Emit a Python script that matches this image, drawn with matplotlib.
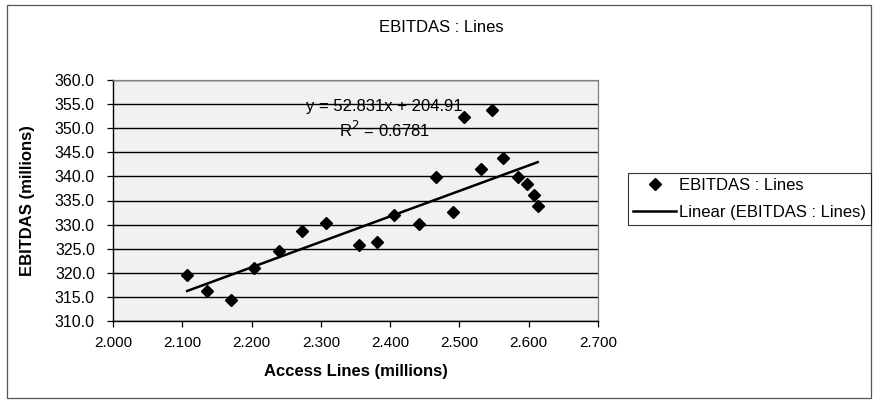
import numpy as np
import matplotlib
matplotlib.use("Agg")
import matplotlib.pyplot as plt
from matplotlib.ticker import FormatStrFormatter, MultipleLocator
from matplotlib.patches import Rectangle

plt.rcParams['font.family'] = ['Liberation Sans', 'DejaVu Sans']

# Access lines (millions) vs EBITDAS (millions)
access_lines = [2.107, 2.135, 2.170, 2.204, 2.239, 2.273, 2.308, 2.355, 2.381,
                2.406, 2.442, 2.466, 2.491, 2.507, 2.531, 2.547, 2.563, 2.585,
                2.597, 2.608, 2.613]
ebitdas = [319.5, 316.2, 314.4, 320.9, 324.5, 328.7, 330.3, 325.8, 326.3,
           332.0, 330.1, 339.8, 332.7, 352.3, 341.5, 353.8, 343.8, 339.9,
           338.4, 336.1, 333.8]

# Linear trend as reported on the chart
slope = 52.831
intercept = 204.91
r_squared = 0.6781

series_name = "EBITDAS : Lines"

fig = plt.figure(figsize=(8.75, 4.0), dpi=100)
ax = fig.add_axes([113 / 875, 1 - 321 / 400, 485 / 875, 241 / 400])
ax.set_facecolor('#f1f1f1')

x = np.array(access_lines)
y = np.array(ebitdas)

ax.plot(x, y, linestyle='none', marker='D', markersize=6.5, color='black',
        label=series_name, zorder=4)

xt = np.array([x.min(), x.max()])
ax.plot(xt, slope * xt + intercept, color='black', linewidth=1.8,
        label=f"Linear ({series_name})", zorder=3)

ax.set_xlim(2.0, 2.7)
ax.set_ylim(310.0, 360.0)
ax.xaxis.set_major_locator(MultipleLocator(0.1))
ax.yaxis.set_major_locator(MultipleLocator(5.0))
ax.xaxis.set_major_formatter(FormatStrFormatter('%.3f'))
ax.yaxis.set_major_formatter(FormatStrFormatter('%.1f'))

ax.yaxis.grid(True, color='black', linewidth=1.0, zorder=1)
ax.set_axisbelow(True)

for side in ('top', 'right'):
    ax.spines[side].set_color('#808080')
    ax.spines[side].set_linestyle((0, (1, 1)))
    ax.spines[side].set_linewidth(0.9)
for side in ('left', 'bottom'):
    ax.spines[side].set_color('black')
    ax.spines[side].set_linewidth(1.0)

ax.tick_params(axis='x', direction='out', length=4, width=0.9, pad=7,
               labelsize=11, colors='black')
ax.tick_params(axis='y', direction='out', length=4, width=0.9, pad=9,
               labelsize=11.5, colors='black')

ax.set_xlabel("Access Lines (millions)", fontsize=12, fontweight='bold', labelpad=10)
ax.set_ylabel("EBITDAS (millions)", fontsize=12, fontweight='bold', labelpad=14)

ax.text(2.391, 354.6, f"y = {slope}x + {intercept}", ha='center', va='center',
        fontsize=12, zorder=5)
ax.text(2.392, 349.6, f"R$^2$ = {r_squared}", ha='center', va='center',
        fontsize=12, zorder=5)

fig.text(441 / 875, 1 - 28 / 400, series_name, ha='center', va='center', fontsize=12)

leg = fig.legend(loc='upper left', bbox_to_anchor=(628 / 875, 1 - 173 / 400),
                 borderaxespad=0, frameon=True, fancybox=False, fontsize=12,
                 handlelength=2.6, handletextpad=0.18, borderpad=0.3,
                 labelspacing=0.7)
leg.get_frame().set_edgecolor('black')
leg.get_frame().set_linewidth(0.8)

# Outer chart border
fig.patches.append(Rectangle((7 / 875, 2 / 400), 864 / 875, 393 / 400,
                             transform=fig.transFigure, fill=False,
                             edgecolor='#555555', linewidth=0.9))

fig.savefig("out.png", dpi=100)
